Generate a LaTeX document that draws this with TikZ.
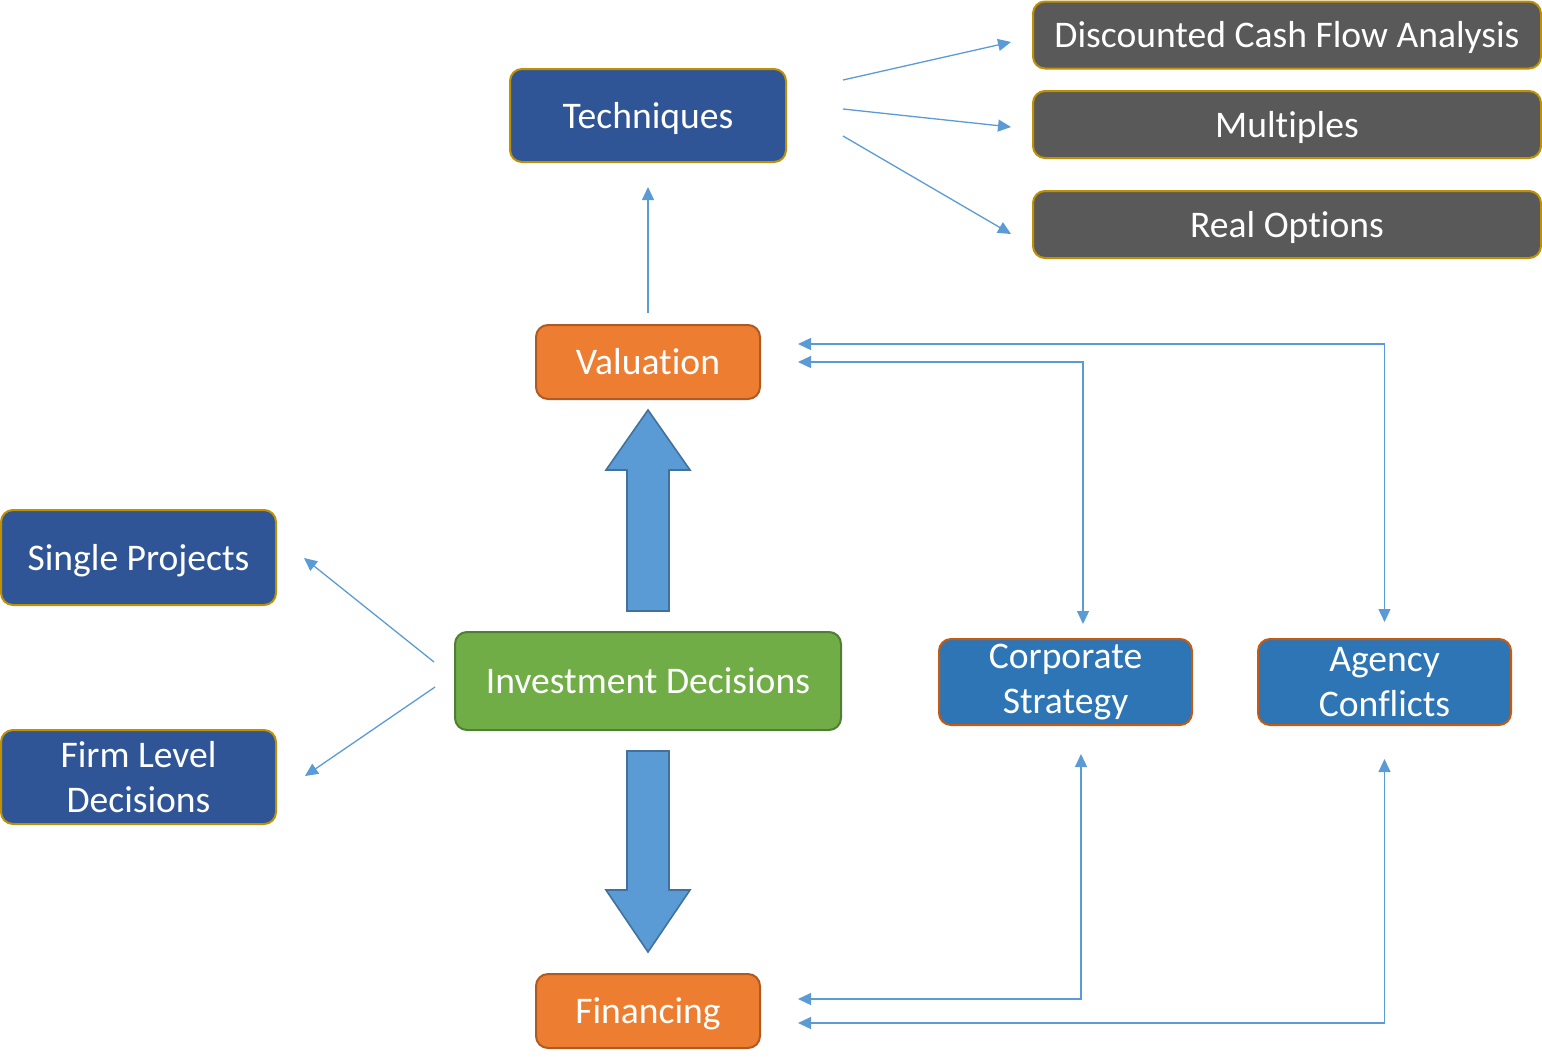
\documentclass[tikz,border=0pt]{standalone}
\usepackage{fontspec}
\setmainfont{Carlito}[Ligatures=NoCommon]
\usetikzlibrary{arrows.meta,calc}
\definecolor{darkblue}{HTML}{2F5597}
\definecolor{midblue}{HTML}{2E75B6}
\definecolor{gold}{HTML}{BF9000}
\definecolor{slate}{HTML}{595959}
\definecolor{orangefill}{HTML}{ED7D31}
\definecolor{orangeline}{HTML}{AE5A21}
\definecolor{brownline}{HTML}{C55A11}
\definecolor{greenfill}{HTML}{70AD47}
\definecolor{greenline}{HTML}{507E32}
\definecolor{linkblue}{HTML}{5B9BD5}
\definecolor{bigline}{HTML}{41719C}
\begin{document}
\begin{tikzpicture}[x=0.5pt,y=-0.5pt]
\tikzstyle{every node}+=[inner sep=0pt]
\tikzstyle{box}=[rectangle, rounded corners=6pt, line width=1pt, text=white, align=center, font=\fontsize{18.8}{22.5}\selectfont]
\tikzstyle{oneline}=[text height=16pt, text depth=3.5pt]
\tikzstyle{topic}=[box, fill=darkblue, draw=gold]
\tikzstyle{method}=[box, oneline, fill=slate, draw=gold, minimum width=254pt, minimum height=33.5pt]
\tikzstyle{hub}=[box, oneline, fill=orangefill, draw=orangeline, minimum width=112pt, minimum height=37pt]
\tikzstyle{issue}=[box, fill=midblue, draw=brownline, minimum width=126.5pt, minimum height=43pt]
\tikzstyle{link}=[draw=linkblue, line width=0.65pt, -{Triangle[length=6.5pt,width=6pt]}]
\tikzstyle{twoway}=[link, {Triangle[length=6.5pt,width=6pt]}-{Triangle[length=6.5pt,width=6pt]}]
\tikzstyle{bigarrow}=[fill=linkblue, draw=bigline, line width=0.8pt, line join=miter]
\useasboundingbox (0,0) rectangle (1542,1056);
\node [topic, oneline, minimum width=138pt, minimum height=46.5pt] (tech) at (648,115.5) {Techniques};
\node [method] (dcf) at (1287,35) {Discounted Cash Flow Analysis};
\node [method] (mult) at (1287,124.5) {Multiples};
\node [method] (realopt) at (1287,224.5) {Real Options};
\node [hub] (val) at (648,362) {Valuation};
\node [topic, oneline, minimum width=137.5pt, minimum height=47.5pt] (single) at (138.5,557.5) {Single Projects};
\node [topic, minimum width=137.5pt, minimum height=47pt] (firm) at (138.5,777) {Firm Level\\Decisions};
\node [box, oneline, fill=greenfill, draw=greenline, minimum width=193pt, minimum height=49pt] (invest) at (648,681) {Investment Decisions};
\node [issue] (corp) at (1065.5,682) {Corporate\\Strategy};
\node [issue] (agency) at (1384.5,682) {Agency\\Conflicts};
\node [hub] (fin) at (648,1011) {Financing};
\draw [bigarrow] (627,611) -- (627,470) -- (606,470) -- (648,410) -- (690,470) -- (669,470) -- (669,611) -- cycle;
\draw [bigarrow] (627,751) -- (627,890) -- (606,890) -- (648,952) -- (690,890) -- (669,890) -- (669,751) -- cycle;
\draw [link, shorten <=5.5pt, shorten >=12pt] (val) -- (tech);
\draw [link] ($(tech.east)+(56,-35.5)$) -- ($(dcf.west)+(-21,7)$);
\draw [link] ($(tech.east)+(56,-6.5)$) -- ($(mult.west)+(-21,2.5)$);
\draw [link] ($(tech.east)+(56,20.5)$) -- ($(realopt.west)+(-21,9.5)$);
\draw [link] ($(invest.west)+(-20,-19)$) -- ($(single.east)+(27,0.5)$);
\draw [link] ($(invest.west)+(-19,6)$) -- ($(firm.east)+(28,-1)$);
\draw [twoway] ($(val.east)+(37,0)$) -| ($(corp.north)+(17.5,-14)$);
\draw [twoway] ($(val.east)+(37,-18)$) -| ($(agency.north)+(0,-16)$);
\draw [twoway] ($(fin.east)+(37,-12)$) -| ($(corp.south)+(15.5,28)$);
\draw [twoway] ($(fin.east)+(37,12)$) -| ($(agency.south)+(0,33)$);
\end{tikzpicture}
\end{document}
